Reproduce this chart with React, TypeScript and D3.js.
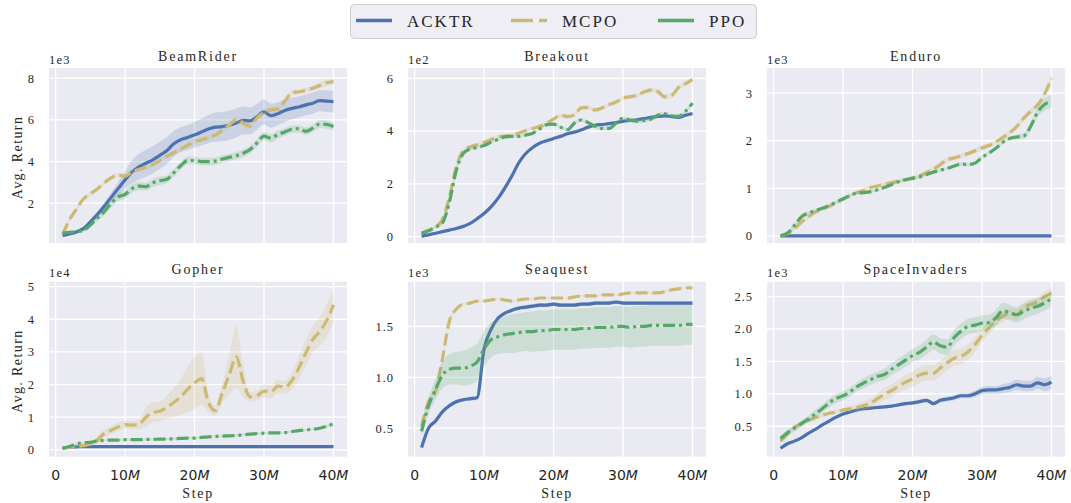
import { useEffect, useRef } from "react";
import * as d3 from "d3";

// training steps, in millions
const steps = [1, 2, 3, 4, 5, 6, 7, 8, 9, 10, 11, 12, 13, 14, 15, 16, 17, 18, 19, 20,
  21, 22, 23, 24, 25, 26, 27, 28, 29, 30, 31, 32, 33, 34, 35, 36, 37, 38, 39, 40];

const methods = ["ACKTR", "MCPO", "PPO"];
const xTicks = [0, 10, 20, 30, 40];

// BeamRider (1e3)
const beamAcktr = [0.45, 0.52, 0.62, 0.78, 1.1, 1.45, 1.85, 2.28, 2.7, 3.12, 3.5, 3.75, 3.92, 4.08, 4.3, 4.52, 4.85, 5.05, 5.15, 5.28,
  5.42, 5.56, 5.65, 5.68, 5.74, 5.85, 5.98, 5.95, 6.15, 6.38, 6.2, 6.3, 6.45, 6.55, 6.62, 6.72, 6.8, 6.92, 6.9, 6.88];
const beamAcktrBand = [0.04, 0.05, 0.06, 0.08, 0.1, 0.14, 0.18, 0.24, 0.32, 0.42, 0.55, 0.62, 0.65, 0.65, 0.65, 0.65, 0.62, 0.6, 0.6, 0.62,
  0.65, 0.68, 0.7, 0.7, 0.7, 0.7, 0.68, 0.65, 0.62, 0.6, 0.58, 0.55, 0.55, 0.52, 0.5, 0.5, 0.5, 0.5, 0.52, 0.52];
const beamMcpo = [0.5, 1.2, 1.72, 2.2, 2.45, 2.68, 2.98, 3.22, 3.35, 3.3, 3.5, 3.62, 3.72, 3.85, 4.05, 4.25, 4.42, 4.6, 4.78, 4.95,
  5.05, 5.15, 5.28, 5.5, 5.75, 6.0, 5.85, 5.7, 6.1, 6.35, 6.48, 6.52, 6.9, 7.3, 7.35, 7.42, 7.52, 7.65, 7.78, 7.84];
const beamMcpoBand = [0.05, 0.08, 0.1, 0.1, 0.1, 0.1, 0.1, 0.1, 0.1, 0.1, 0.1, 0.1, 0.1, 0.1, 0.1, 0.1, 0.1, 0.1, 0.12, 0.12,
  0.12, 0.12, 0.12, 0.12, 0.15, 0.15, 0.15, 0.15, 0.12, 0.12, 0.12, 0.12, 0.12, 0.12, 0.12, 0.12, 0.12, 0.15, 0.15, 0.15];
const beamPpo = [0.56, 0.6, 0.63, 0.7, 0.95, 1.28, 1.6, 2.0, 2.3, 2.42, 2.7, 2.82, 2.8, 2.98, 3.08, 3.15, 3.45, 3.8, 4.05, 4.05,
  4.0, 4.0, 4.02, 4.12, 4.2, 4.28, 4.4, 4.58, 4.9, 5.22, 5.12, 5.3, 5.42, 5.55, 5.58, 5.45, 5.6, 5.8, 5.78, 5.68];
const beamPpoBand = [0.05, 0.06, 0.08, 0.1, 0.12, 0.15, 0.18, 0.2, 0.2, 0.2, 0.2, 0.2, 0.2, 0.2, 0.2, 0.18, 0.18, 0.18, 0.18, 0.18,
  0.18, 0.18, 0.18, 0.18, 0.18, 0.18, 0.18, 0.18, 0.2, 0.2, 0.2, 0.2, 0.18, 0.18, 0.18, 0.18, 0.18, 0.2, 0.2, 0.2];

// Breakout (1e2)
const breakAcktr = [0.02, 0.07, 0.13, 0.19, 0.25, 0.31, 0.39, 0.5, 0.68, 0.88, 1.13, 1.45, 1.85, 2.3, 2.8, 3.15, 3.38, 3.54, 3.63, 3.72,
  3.8, 3.9, 3.96, 4.05, 4.15, 4.22, 4.25, 4.28, 4.32, 4.37, 4.4, 4.43, 4.47, 4.52, 4.56, 4.58, 4.55, 4.52, 4.6, 4.66];
const breakAcktrBand = [0.02, 0.02, 0.02, 0.02, 0.02, 0.02, 0.03, 0.03, 0.03, 0.04, 0.05, 0.06, 0.08, 0.09, 0.08, 0.05, 0.04, 0.03, 0.03, 0.03,
  0.03, 0.03, 0.03, 0.03, 0.03, 0.03, 0.03, 0.03, 0.03, 0.03, 0.03, 0.03, 0.03, 0.03, 0.03, 0.03, 0.03, 0.03, 0.03, 0.03];
const breakMcpo = [0.13, 0.25, 0.38, 0.65, 1.5, 2.65, 3.25, 3.4, 3.48, 3.58, 3.68, 3.78, 3.82, 3.85, 3.92, 4.02, 4.1, 4.18, 4.3, 4.45,
  4.6, 4.55, 4.62, 4.88, 4.9, 4.8, 4.88, 5.0, 5.1, 5.25, 5.3, 5.35, 5.48, 5.55, 5.5, 5.3, 5.35, 5.65, 5.8, 5.95];
const breakMcpoBand = [0.03, 0.04, 0.05, 0.08, 0.12, 0.12, 0.08, 0.06, 0.06, 0.06, 0.06, 0.06, 0.06, 0.06, 0.06, 0.06, 0.06, 0.06, 0.08, 0.08,
  0.08, 0.08, 0.08, 0.08, 0.08, 0.08, 0.08, 0.08, 0.08, 0.08, 0.08, 0.08, 0.08, 0.08, 0.1, 0.1, 0.1, 0.08, 0.08, 0.1];
const breakPpo = [0.13, 0.22, 0.36, 0.52, 1.3, 2.5, 3.15, 3.32, 3.38, 3.45, 3.58, 3.68, 3.78, 3.8, 3.8, 3.85, 3.92, 4.08, 4.24, 4.26,
  4.15, 4.05, 4.3, 4.42, 4.32, 4.18, 4.1, 4.1, 4.3, 4.48, 4.42, 4.38, 4.4, 4.45, 4.6, 4.65, 4.58, 4.56, 4.75, 5.06];
const breakPpoBand = [0.03, 0.04, 0.05, 0.08, 0.12, 0.12, 0.08, 0.06, 0.05, 0.05, 0.05, 0.05, 0.05, 0.05, 0.05, 0.05, 0.05, 0.05, 0.06, 0.06,
  0.06, 0.06, 0.06, 0.07, 0.07, 0.07, 0.07, 0.07, 0.07, 0.07, 0.08, 0.08, 0.08, 0.07, 0.07, 0.07, 0.07, 0.07, 0.07, 0.07];

// Enduro (1e3)
const enduroAcktr = [0, 0, 0, 0, 0, 0, 0, 0, 0, 0, 0, 0, 0, 0, 0, 0, 0, 0, 0, 0,
  0, 0, 0, 0, 0, 0, 0, 0, 0, 0, 0, 0, 0, 0, 0, 0, 0, 0, 0, 0];
const enduroAcktrBand = [0, 0, 0, 0, 0, 0, 0, 0, 0, 0, 0, 0, 0, 0, 0, 0, 0, 0, 0, 0,
  0, 0, 0, 0, 0, 0, 0, 0, 0, 0, 0, 0, 0, 0, 0, 0, 0, 0, 0, 0];
const enduroMcpo = [0.0, 0.05, 0.15, 0.29, 0.4, 0.5, 0.56, 0.62, 0.7, 0.77, 0.84, 0.91, 0.96, 1.02, 1.05, 1.09, 1.12, 1.15, 1.18, 1.22,
  1.26, 1.33, 1.4, 1.5, 1.6, 1.64, 1.68, 1.73, 1.79, 1.85, 1.9, 1.97, 2.07, 2.17, 2.3, 2.47, 2.62, 2.75, 2.98, 3.31];
const enduroMcpoBand = [0.02, 0.04, 0.05, 0.06, 0.05, 0.04, 0.04, 0.04, 0.04, 0.04, 0.04, 0.04, 0.04, 0.04, 0.04, 0.04, 0.04, 0.04, 0.04, 0.04,
  0.04, 0.05, 0.05, 0.06, 0.06, 0.05, 0.05, 0.05, 0.05, 0.06, 0.05, 0.05, 0.05, 0.05, 0.06, 0.06, 0.06, 0.06, 0.07, 0.08];
const enduroPpo = [0, 0.06, 0.22, 0.4, 0.48, 0.53, 0.58, 0.64, 0.71, 0.78, 0.85, 0.9, 0.91, 0.93, 0.97, 1.02, 1.08, 1.14, 1.18, 1.21,
  1.24, 1.29, 1.34, 1.38, 1.42, 1.47, 1.51, 1.5, 1.53, 1.65, 1.74, 1.84, 1.97, 2.05, 2.08, 2.1, 2.3, 2.6, 2.76, 2.83];
const enduroPpoBand = [0.02, 0.04, 0.05, 0.05, 0.04, 0.03, 0.03, 0.03, 0.03, 0.03, 0.03, 0.03, 0.03, 0.03, 0.03, 0.03, 0.03, 0.03, 0.03, 0.03,
  0.03, 0.03, 0.03, 0.03, 0.03, 0.03, 0.04, 0.04, 0.04, 0.04, 0.04, 0.04, 0.04, 0.04, 0.05, 0.06, 0.08, 0.1, 0.13, 0.14];

// Gopher (1e4)
const gopherAcktr = [0.05, 0.08, 0.09, 0.1, 0.1, 0.1, 0.1, 0.1, 0.1, 0.1, 0.1, 0.1, 0.1, 0.1, 0.1, 0.1, 0.1, 0.1, 0.1, 0.1,
  0.1, 0.1, 0.1, 0.1, 0.1, 0.1, 0.1, 0.1, 0.1, 0.1, 0.1, 0.1, 0.1, 0.1, 0.1, 0.1, 0.1, 0.1, 0.1, 0.1];
const gopherAcktrBand = [0.01, 0.01, 0.01, 0.01, 0.01, 0.01, 0.01, 0.01, 0.01, 0.01, 0.01, 0.01, 0.01, 0.01, 0.01, 0.01, 0.01, 0.01, 0.01, 0.01,
  0.01, 0.01, 0.01, 0.01, 0.01, 0.01, 0.01, 0.01, 0.01, 0.01, 0.01, 0.01, 0.01, 0.01, 0.01, 0.01, 0.01, 0.01, 0.01, 0.01];
const gopherMcpo = [0.05, 0.08, 0.1, 0.13, 0.18, 0.3, 0.5, 0.6, 0.7, 0.77, 0.76, 0.78, 1.0, 1.15, 1.18, 1.3, 1.45, 1.62, 1.85, 2.05,
  2.18, 1.45, 1.2, 1.75, 2.3, 2.85, 2.1, 1.62, 1.66, 1.8, 1.78, 1.95, 1.92, 2.12, 2.5, 2.95, 3.37, 3.62, 3.95, 4.44];
const gopherMcpoBand = [0.05, 0.05, 0.05, 0.05, 0.05, 0.12, 0.12, 0.12, 0.12, 0.12, 0.12, 0.15, 0.3, 0.3, 0.3, 0.35, 0.45, 0.55, 0.7, 0.8,
  0.8, 0.3, 0.15, 0.3, 0.6, 0.95, 0.5, 0.15, 0.15, 0.2, 0.2, 0.2, 0.2, 0.25, 0.35, 0.4, 0.4, 0.45, 0.5, 0.5];
const gopherPpo = [0.05, 0.1, 0.18, 0.22, 0.23, 0.27, 0.29, 0.3, 0.3, 0.31, 0.31, 0.31, 0.32, 0.32, 0.33, 0.33, 0.34, 0.35, 0.36, 0.36,
  0.38, 0.4, 0.41, 0.42, 0.43, 0.44, 0.46, 0.48, 0.5, 0.51, 0.52, 0.52, 0.53, 0.56, 0.59, 0.61, 0.63, 0.66, 0.72, 0.8];
const gopherPpoBand = [0.02, 0.02, 0.03, 0.03, 0.03, 0.03, 0.03, 0.03, 0.03, 0.03, 0.03, 0.03, 0.03, 0.03, 0.03, 0.03, 0.03, 0.03, 0.03, 0.03,
  0.03, 0.03, 0.03, 0.03, 0.03, 0.03, 0.03, 0.03, 0.03, 0.03, 0.03, 0.03, 0.03, 0.03, 0.03, 0.03, 0.03, 0.04, 0.04, 0.05];

// Seaquest (1e3)
const seaAcktr = [0.31, 0.5, 0.57, 0.66, 0.72, 0.76, 0.78, 0.79, 0.8, 1.28, 1.47, 1.58, 1.63, 1.66, 1.68, 1.69, 1.7, 1.71, 1.71, 1.72,
  1.71, 1.71, 1.71, 1.72, 1.72, 1.73, 1.73, 1.73, 1.74, 1.73, 1.73, 1.73, 1.73, 1.73, 1.73, 1.73, 1.73, 1.73, 1.73, 1.73];
const seaAcktrBand = [0.02, 0.02, 0.02, 0.02, 0.02, 0.02, 0.02, 0.02, 0.02, 0.03, 0.02, 0.02, 0.02, 0.02, 0.02, 0.02, 0.02, 0.02, 0.02, 0.02,
  0.02, 0.02, 0.02, 0.02, 0.02, 0.02, 0.02, 0.02, 0.02, 0.02, 0.02, 0.02, 0.02, 0.02, 0.02, 0.02, 0.02, 0.02, 0.02, 0.02];
const seaMcpo = [0.52, 0.76, 0.86, 1.18, 1.55, 1.67, 1.72, 1.73, 1.75, 1.75, 1.76, 1.77, 1.76, 1.75, 1.76, 1.77, 1.77, 1.78, 1.78, 1.78,
  1.78, 1.78, 1.79, 1.8, 1.8, 1.8, 1.81, 1.81, 1.81, 1.82, 1.83, 1.83, 1.83, 1.83, 1.83, 1.84, 1.86, 1.87, 1.88, 1.88];
const seaMcpoBand = [0.03, 0.03, 0.03, 0.03, 0.02, 0.02, 0.01, 0.01, 0.01, 0.01, 0.01, 0.01, 0.01, 0.01, 0.01, 0.01, 0.01, 0.01, 0.01, 0.01,
  0.01, 0.01, 0.01, 0.01, 0.01, 0.01, 0.01, 0.01, 0.01, 0.01, 0.01, 0.01, 0.01, 0.01, 0.01, 0.01, 0.01, 0.01, 0.01, 0.01];
const seaPpo = [0.47, 0.72, 0.88, 1.02, 1.08, 1.09, 1.09, 1.11, 1.15, 1.28, 1.37, 1.4, 1.42, 1.43, 1.44, 1.45, 1.45, 1.46, 1.46, 1.47,
  1.47, 1.47, 1.47, 1.48, 1.48, 1.49, 1.49, 1.49, 1.5, 1.5, 1.49, 1.5, 1.5, 1.51, 1.51, 1.51, 1.51, 1.51, 1.52, 1.52];
const seaPpoBand = [0.05, 0.08, 0.1, 0.13, 0.15, 0.16, 0.17, 0.18, 0.18, 0.18, 0.17, 0.17, 0.18, 0.19, 0.19, 0.19, 0.2, 0.2, 0.2, 0.2,
  0.2, 0.2, 0.2, 0.2, 0.2, 0.2, 0.2, 0.2, 0.2, 0.2, 0.2, 0.2, 0.2, 0.2, 0.2, 0.2, 0.2, 0.2, 0.2, 0.2];

// SpaceInvaders (1e3)
const spaceAcktr = [0.16, 0.23, 0.27, 0.32, 0.39, 0.45, 0.52, 0.58, 0.64, 0.69, 0.72, 0.75, 0.77, 0.78, 0.79, 0.8, 0.81, 0.83, 0.85, 0.86,
  0.88, 0.9, 0.85, 0.9, 0.92, 0.94, 0.97, 0.97, 1.0, 1.05, 1.06, 1.06, 1.08, 1.1, 1.14, 1.12, 1.12, 1.17, 1.14, 1.18];
const spaceAcktrBand = [0.02, 0.02, 0.02, 0.02, 0.02, 0.02, 0.02, 0.02, 0.02, 0.02, 0.02, 0.02, 0.02, 0.02, 0.02, 0.02, 0.02, 0.02, 0.03, 0.03,
  0.03, 0.03, 0.03, 0.03, 0.04, 0.04, 0.04, 0.04, 0.05, 0.06, 0.06, 0.06, 0.07, 0.07, 0.08, 0.08, 0.08, 0.09, 0.1, 0.1];
const spaceMcpo = [0.27, 0.38, 0.48, 0.54, 0.59, 0.63, 0.67, 0.7, 0.72, 0.75, 0.77, 0.79, 0.82, 0.86, 0.93, 1.0, 1.05, 1.12, 1.18, 1.23,
  1.29, 1.32, 1.32, 1.4, 1.48, 1.55, 1.58, 1.65, 1.76, 1.9, 2.02, 2.13, 2.2, 2.24, 2.22, 2.33, 2.38, 2.42, 2.5, 2.55];
const spaceMcpoBand = [0.03, 0.03, 0.03, 0.03, 0.03, 0.03, 0.03, 0.03, 0.03, 0.03, 0.04, 0.05, 0.06, 0.07, 0.08, 0.09, 0.1, 0.1, 0.11, 0.12,
  0.12, 0.12, 0.12, 0.12, 0.12, 0.12, 0.12, 0.12, 0.11, 0.1, 0.1, 0.09, 0.09, 0.08, 0.08, 0.08, 0.08, 0.08, 0.08, 0.08];
const spacePpo = [0.31, 0.4, 0.47, 0.54, 0.61, 0.69, 0.77, 0.86, 0.93, 0.97, 1.03, 1.11, 1.17, 1.22, 1.27, 1.3, 1.38, 1.45, 1.52, 1.59,
  1.64, 1.72, 1.8, 1.74, 1.72, 1.87, 1.97, 2.04, 2.06, 2.09, 2.1, 2.17, 2.28, 2.25, 2.22, 2.27, 2.32, 2.35, 2.4, 2.47];
const spacePpoBand = [0.04, 0.05, 0.05, 0.05, 0.05, 0.06, 0.06, 0.07, 0.07, 0.07, 0.07, 0.07, 0.08, 0.08, 0.08, 0.09, 0.09, 0.1, 0.1, 0.1,
  0.11, 0.12, 0.12, 0.12, 0.12, 0.12, 0.12, 0.12, 0.12, 0.12, 0.12, 0.12, 0.12, 0.12, 0.12, 0.12, 0.12, 0.12, 0.12, 0.12];

const colors = { ACKTR: "#4C72B0", MCPO: "#CCB974", PPO: "#55A868" };
const dashes = { ACKTR: null, MCPO: "12,5", PPO: "12,4,3,4" };

const fmtInt = (d) => String(d);
const fmtOne = (d) => d.toFixed(1);

const panels = [
  { title: "BeamRider", exp: "1e3", yDomain: [0.09, 8.49], yTicks: [2, 4, 6, 8], fmt: fmtInt,
    series: { ACKTR: [beamAcktr, beamAcktrBand], MCPO: [beamMcpo, beamMcpoBand], PPO: [beamPpo, beamPpoBand] } },
  { title: "Breakout", exp: "1e2", yDomain: [-0.24, 6.39], yTicks: [0, 2, 4, 6], fmt: fmtInt,
    series: { ACKTR: [breakAcktr, breakAcktrBand], MCPO: [breakMcpo, breakMcpoBand], PPO: [breakPpo, breakPpoBand] } },
  { title: "Enduro", exp: "1e3", yDomain: [-0.15, 3.53], yTicks: [0, 1, 2, 3], fmt: fmtInt,
    series: { ACKTR: [enduroAcktr, enduroAcktrBand], MCPO: [enduroMcpo, enduroMcpoBand], PPO: [enduroPpo, enduroPpoBand] } },
  { title: "Gopher", exp: "1e4", yDomain: [-0.21, 5.15], yTicks: [0, 1, 2, 3, 4, 5], fmt: fmtInt,
    series: { ACKTR: [gopherAcktr, gopherAcktrBand], MCPO: [gopherMcpo, gopherMcpoBand], PPO: [gopherPpo, gopherPpoBand] } },
  { title: "Seaquest", exp: "1e3", yDomain: [0.22, 1.94], yTicks: [0.5, 1.0, 1.5], fmt: fmtOne,
    series: { ACKTR: [seaAcktr, seaAcktrBand], MCPO: [seaMcpo, seaMcpoBand], PPO: [seaPpo, seaPpoBand] } },
  { title: "SpaceInvaders", exp: "1e3", yDomain: [0.03, 2.73], yTicks: [0.5, 1.0, 1.5, 2.0, 2.5], fmt: fmtOne,
    series: { ACKTR: [spaceAcktr, spaceAcktrBand], MCPO: [spaceMcpo, spaceMcpoBand], PPO: [spacePpo, spacePpoBand] } },
];

const SERIF = "'Liberation Serif', 'Times New Roman', serif";
const SANS = "'DejaVu Sans', sans-serif";
const TEXT = "#262626";

function AtariChart() {
  const ref = useRef(null);

  useEffect(() => {
    const width = 1071;
    const height = 503;
    const colLeft = [49, 408, 767];
    const rowTop = [68, 281.7];
    const pw = 298;
    const ph = 175;

    const svg = d3.select(ref.current);
    svg.selectAll("*").remove();
    svg.attr("width", width).attr("height", height);

    const x = d3.scaleLinear().domain([1 - 1.95, 40 + 1.95]).range([0, pw]);

    panels.forEach((p, i) => {
      const col = i % 3;
      const row = Math.floor(i / 3);
      const g = svg.append("g").attr("transform", `translate(${colLeft[col]},${rowTop[row]})`);
      const y = d3.scaleLinear().domain(p.yDomain).range([ph, 0]);

      g.append("rect").attr("width", pw).attr("height", ph).attr("fill", "#EAEAF2");

      g.selectAll(".vgrid")
        .data(xTicks)
        .join("line")
        .attr("x1", (d) => x(d))
        .attr("x2", (d) => x(d))
        .attr("y1", 0)
        .attr("y2", ph)
        .attr("stroke", "#fff")
        .attr("stroke-width", 1.3);

      g.selectAll(".hgrid")
        .data(p.yTicks)
        .join("line")
        .attr("x1", 0)
        .attr("x2", pw)
        .attr("y1", (d) => y(d))
        .attr("y2", (d) => y(d))
        .attr("stroke", "#fff")
        .attr("stroke-width", 1.3);

      methods.forEach((m) => {
        const [mean, band] = p.series[m];
        const pts = steps.map((s, k) => ({ s, v: mean[k], b: band[k] }));
        const area = d3
          .area()
          .x((d) => x(d.s))
          .y0((d) => y(d.v - d.b))
          .y1((d) => y(d.v + d.b))
          .curve(d3.curveMonotoneX);
        g.append("path").datum(pts).attr("d", area).attr("fill", colors[m]).attr("fill-opacity", 0.2);

        const line = d3
          .line()
          .x((d) => x(d.s))
          .y((d) => y(d.v))
          .curve(d3.curveMonotoneX);
        g.append("path")
          .datum(pts)
          .attr("d", line)
          .attr("fill", "none")
          .attr("stroke", colors[m])
          .attr("stroke-width", 3.2)
          .attr("stroke-dasharray", dashes[m])
          .attr("stroke-linejoin", "round");
      });

      // y tick labels
      g.selectAll(".ytl")
        .data(p.yTicks)
        .join("text")
        .attr("x", -14)
        .attr("y", (d) => y(d))
        .attr("dy", "0.35em")
        .attr("text-anchor", "end")
        .attr("fill", TEXT)
        .style("font-family", SERIF)
        .style("font-size", "12.5px")
        .style("letter-spacing", "1px")
        .text(p.fmt);

      g.append("text")
        .attr("x", 0)
        .attr("y", -4.5)
        .attr("fill", TEXT)
        .style("font-family", SERIF)
        .style("font-size", "12.5px")
        .style("letter-spacing", "1.2px")
        .text(p.exp);

      g.append("text")
        .attr("x", pw / 2)
        .attr("y", -7.5)
        .attr("text-anchor", "middle")
        .attr("fill", TEXT)
        .style("font-family", SERIF)
        .style("font-size", "14px")
        .style("letter-spacing", "1.8px")
        .text(p.title);

      if (col === 0) {
        g.append("text")
          .attr("transform", `translate(${21.5 - colLeft[col]},${ph / 2 + 2}) rotate(-90)`)
          .attr("text-anchor", "middle")
          .attr("fill", TEXT)
          .style("font-family", SERIF)
          .style("font-size", "14px")
          .style("letter-spacing", "1.4px")
          .text("Avg. Return");
      }

      if (row === 1) {
        const xl = g
          .selectAll(".xtl")
          .data(xTicks)
          .join("text")
          .attr("x", (d) => x(d))
          .attr("y", ph + 23)
          .attr("text-anchor", "middle")
          .attr("fill", TEXT)
          .style("font-family", SANS)
          .style("font-size", "14px");
        xl.append("tspan").text((d) => String(d));
        xl.filter((d) => d > 0)
          .append("tspan")
          .style("font-style", "italic")
          .text("M");

        g.append("text")
          .attr("x", pw / 2)
          .attr("y", ph + 41)
          .attr("text-anchor", "middle")
          .attr("fill", TEXT)
          .style("font-family", SERIF)
          .style("font-size", "14px")
          .style("letter-spacing", "1.7px")
          .text("Step");
      }
    });

    // legend
    const lg = svg.append("g");
    lg.append("rect")
      .attr("x", 350.5)
      .attr("y", 4.5)
      .attr("width", 406)
      .attr("height", 34)
      .attr("rx", 4)
      .attr("fill", "#EEEEF4")
      .attr("stroke", "#CCCCCC");
    const legendX = { ACKTR: 356, MCPO: 511, PPO: 658 };
    methods.forEach((m) => {
      lg.append("line")
        .attr("x1", legendX[m])
        .attr("x2", legendX[m] + 36)
        .attr("y1", 20.5)
        .attr("y2", 20.5)
        .attr("stroke", colors[m])
        .attr("stroke-width", 3.5)
        .attr("stroke-dasharray", m === "MCPO" ? "22,6" : null);
      lg.append("text")
        .attr("x", legendX[m] + 51)
        .attr("y", 27)
        .attr("fill", TEXT)
        .style("font-family", SERIF)
        .style("font-size", "17px")
        .style("letter-spacing", "2px")
        .text(m);
    });
  }, []);

  return <svg ref={ref} />;
}

export default function App() {
  return (
    <div style={{ position: "absolute", left: 0, top: 0 }}>
      <AtariChart />
    </div>
  );
}
